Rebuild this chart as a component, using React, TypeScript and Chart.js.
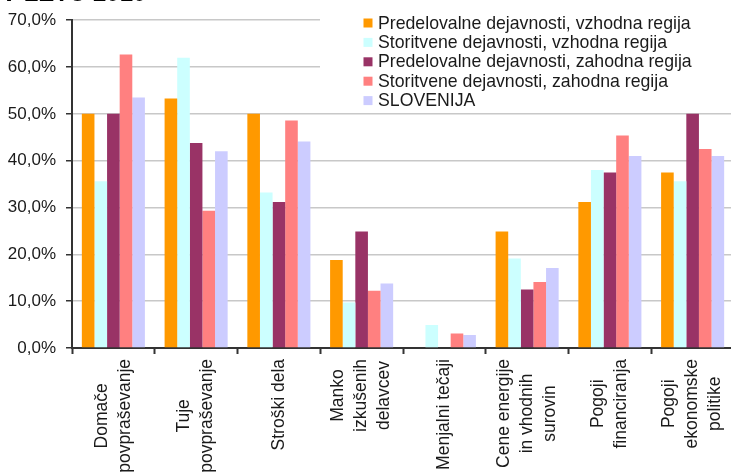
import React, { useEffect, useRef } from 'react';
import { Chart, registerables } from 'chart.js';

Chart.register(...registerables);

const titleText = 'V LETU 2010';

const categories: string[][] = [
  ['Domače', 'povpraševanje'],
  ['Tuje', 'povpraševanje'],
  ['Stroški dela'],
  ['Manko', 'izkušenih', 'delavcev'],
  ['Menjalni tečaji'],
  ['Cene energije', 'in vhodnih', 'surovin'],
  ['Pogoji', 'financiranja'],
  ['Pogoji', 'ekonomske', 'politike'],
];

const seriesLabels = [
  'Predelovalne dejavnosti, vzhodna regija',
  'Storitvene dejavnosti, vzhodna regija',
  'Predelovalne dejavnosti, zahodna regija',
  'Storitvene dejavnosti, zahodna regija',
  'SLOVENIJA',
];

const predelovalneVzhod = [50.0, 53.3, 50.0, 18.8, 0, 24.9, 31.2, 37.5];
const storitveneVzhod = [35.6, 62.0, 33.2, 9.7, 4.9, 19.1, 38.0, 35.6];
const predelovalneZahod = [50.0, 43.8, 31.2, 24.9, 0, 12.5, 37.5, 50.0];
const storitveneZahod = [62.7, 29.3, 48.6, 12.2, 3.1, 14.1, 45.4, 42.5];
const slovenija = [53.5, 42.0, 44.1, 13.8, 2.8, 17.1, 41.0, 41.0];

const seriesColors = ['#FF9900', '#CCFFFF', '#993366', '#FF8080', '#CCCCFF'];

const yMin = 0;
const yMax = 70;
const yStep = 10;

const FONT = '"Liberation Sans", Arial, sans-serif';
const TEXT_COLOR = '#1a1a1a';

const overlayPlugin = {
  id: 'overlay',
  afterDraw(chart: any) {
    const ctx = chart.ctx as CanvasRenderingContext2D;
    const xScale = chart.scales.x;
    const labels = chart.data.labels as string[][];

    // Category labels (rotated, lines centred on each other)
    ctx.save();
    ctx.fillStyle = TEXT_COLOR;
    ctx.font = `17.5px ${FONT}`;
    const yTop = 359;
    const lineH = 23;
    labels.forEach((lines, i) => {
      const cx = xScale.getPixelForValue(i);
      const w = Math.max(...lines.map((l) => ctx.measureText(l).width));
      ctx.save();
      ctx.translate(cx, yTop + w / 2);
      ctx.rotate(-Math.PI / 2);
      ctx.textAlign = 'center';
      ctx.textBaseline = 'middle';
      const n = lines.length;
      lines.forEach((line, j) => {
        ctx.fillText(line, 0, (j - (n - 1) / 2) * lineH);
      });
      ctx.restore();
    });
    ctx.restore();

    // Legend
    ctx.save();
    ctx.fillStyle = '#ffffff';
    ctx.fillRect(320, 0, 430, 111);
    ctx.font = `17.7px ${FONT}`;
    ctx.textAlign = 'left';
    ctx.textBaseline = 'alphabetic';
    chart.data.datasets.forEach((ds: any, i: number) => {
      const cy = 23 + i * 19.4;
      ctx.fillStyle = ds.backgroundColor;
      ctx.fillRect(363.5, cy - 4.5, 9, 9);
      ctx.fillStyle = TEXT_COLOR;
      ctx.fillText(ds.label, 378, cy + 5.5);
    });
    ctx.restore();
  },
};

export default function App() {
  const canvasRef = useRef<HTMLCanvasElement | null>(null);

  useEffect(() => {
    const canvas = canvasRef.current;
    if (!canvas) return;
    const values = [predelovalneVzhod, storitveneVzhod, predelovalneZahod, storitveneZahod, slovenija];
    const chart = new Chart(canvas, {
      type: 'bar',
      data: {
        labels: categories as any,
        datasets: values.map((v, i) => ({
          label: seriesLabels[i],
          data: v,
          backgroundColor: seriesColors[i],
          borderWidth: 0,
          categoryPercentage: 0.762,
          barPercentage: 1,
        })),
      },
      options: {
        responsive: false,
        animation: false,
        layout: { padding: { top: 20, left: 0, right: 0, bottom: 0 } },
        plugins: {
          legend: { display: false },
          tooltip: { enabled: false },
          title: { display: false },
        },
        scales: {
          x: {
            grid: {
              display: true,
              drawOnChartArea: false,
              drawTicks: true,
              tickLength: 6,
              tickColor: '#333333',
              tickWidth: 2,
            },
            border: { display: true, color: '#333333', width: 2 },
            ticks: { display: false },
            afterFit: (s: any) => {
              s.height = 125;
            },
          },
          y: {
            min: yMin,
            max: yMax,
            ticks: {
              stepSize: yStep,
              padding: 10,
              color: TEXT_COLOR,
              font: { family: FONT, size: 17 },
              callback: (v: any) => Number(v).toFixed(1).replace('.', ',') + '%',
            },
            grid: {
              color: '#c8c8c8',
              lineWidth: 1.5,
              tickLength: 6,
              tickColor: '#333333',
              tickWidth: 1.5,
            },
            border: { display: true, color: '#333333', width: 2 },
            afterFit: (s: any) => {
              s.width = 72;
            },
          },
        },
      } as any,
      plugins: [overlayPlugin],
    });
    return () => chart.destroy();
  }, []);

  return (
    <div
      style={{
        position: 'fixed',
        left: 0,
        top: 0,
        width: 731,
        height: 473,
        overflow: 'hidden',
        background: '#ffffff',
      }}
    >
      <canvas ref={canvasRef} width={734} height={473} style={{ display: 'block' }} />
      <div
        style={{
          position: 'absolute',
          left: 1,
          top: -19,
          fontFamily: FONT,
          fontWeight: 'bold',
          fontSize: 24,
          lineHeight: '24px',
          color: '#000',
          whiteSpace: 'nowrap',
        }}
      >
        {titleText}
      </div>
    </div>
  );
}
